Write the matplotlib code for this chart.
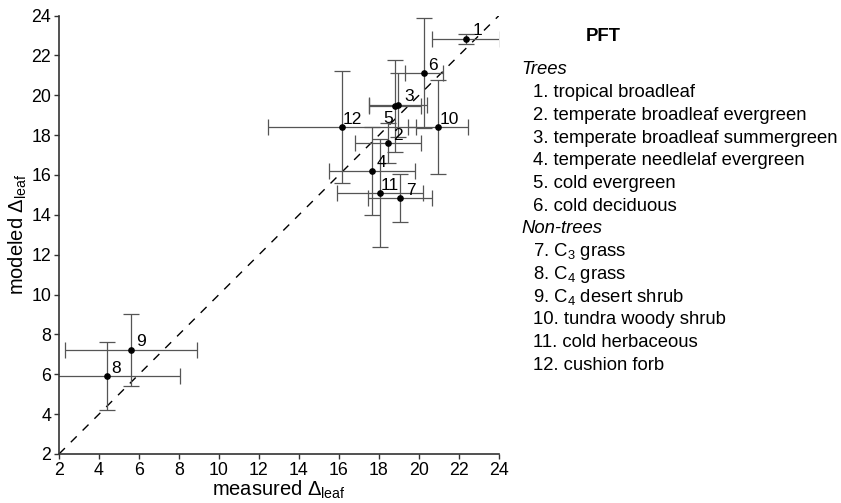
import numpy as np
import matplotlib.pyplot as plt

plt.rcParams['font.family'] = ['Liberation Sans', 'DejaVu Sans']
plt.rcParams['mathtext.fontset'] = 'custom'
plt.rcParams['mathtext.rm'] = 'Liberation Sans'
plt.rcParams['mathtext.it'] = 'Liberation Sans:italic'

# Datos por PFT (1..12)
pft_id = [1, 2, 3, 4, 5, 6, 7, 8, 9, 10, 11, 12]
measured = [22.35, 18.45, 18.95, 17.65, 18.8, 20.25, 19.05, 4.4, 5.6, 20.95, 18.05, 16.15]
modeled = [22.8, 17.6, 19.5, 16.2, 19.45, 21.1, 14.85, 5.9, 7.2, 18.4, 15.1, 18.4]
measured_err = [1.7, 1.65, 1.45, 2.15, 1.3, 0.95, 1.6, 3.65, 3.3, 1.5, 2.15, 3.7]
modeled_err = [0.25, 1.0, 1.6, 2.2, 2.3, 2.75, 1.2, 1.7, 1.8, 2.35, 2.7, 2.8]

trees = ['1. tropical broadleaf', '2. temperate broadleaf evergreen',
         '3. temperate broadleaf summergreen', '4. temperate needlelaf evergreen',
         '5. cold evergreen', '6. cold deciduous']
nontrees = ['7. C$_3$ grass', '8. C$_4$ grass', '9. C$_4$ desert shrub',
            '10. tundra woody shrub', '11. cold herbaceous', '12. cushion forb']

# desplazamiento de las etiquetas (pixeles)
lab_off = {1: (7, 4), 2: (5, 3), 3: (6, 4), 4: (5, 4), 5: (-12, -17), 6: (4, 3),
           7: (6, 3), 8: (4, 3), 9: (5, 4), 10: (2, 3), 11: (1, 3), 12: (1, 3)}

W, H = 841, 503
fig = plt.figure(figsize=(W / 100, H / 100), dpi=100)
ax = fig.add_axes([59 / W, 49 / H, 440 / W, 438.5 / H])

ax.plot([2, 24], [2, 24], color='black', lw=1.0, dashes=(6, 6))
ax.errorbar(measured, modeled, xerr=measured_err, yerr=modeled_err, fmt='none',
            ecolor='#555555', elinewidth=0.9, capsize=6, capthick=0.9, zorder=2)
ax.plot(measured, modeled, 'o', color='black', ms=3.8, zorder=3)

for i, x, y in zip(pft_id, measured, modeled):
    dx, dy = lab_off[i]
    ax.annotate(str(i), (x, y), xytext=(dx, dy), textcoords='offset pixels',
                ha='left', va='baseline', fontsize=12.5)

ax.set_xlim(2, 24)
ax.set_ylim(2, 24)
ax.set_xticks(np.arange(2, 25, 2))
ax.set_yticks(np.arange(2, 25, 2))
for s in ['top', 'right']:
    ax.spines[s].set_visible(False)
for s in ['left', 'bottom']:
    ax.spines[s].set_color('#333333')
    ax.spines[s].set_linewidth(1.2)
ax.tick_params(direction='out', length=3.5, width=1, color='#333333',
               labelsize=12.8, pad=2)
ax.set_xlabel(r'measured $\Delta_{\mathrm{leaf}}$', fontsize=14.5, labelpad=0)
ax.set_ylabel(r'modeled $\Delta_{\mathrm{leaf}}$', fontsize=14.5, labelpad=2)

# leyenda de texto
def fy(py):
    return 1 - py / H

fs = 13.3
fig.text(603 / W, fy(36.5), 'PFT', fontweight='bold', fontsize=fs, ha='center', va='center')
step = 22.7
y0 = 70
fig.text(521.5 / W, fy(y0), 'Trees', style='italic', fontsize=fs, va='center')
for k, t in enumerate(trees):
    fig.text(533 / W, fy(y0 + step * (k + 1)), t, fontsize=fs, va='center')
fig.text(521.5 / W, fy(y0 + step * 7), 'Non-trees', style='italic', fontsize=fs, va='center')
for k, t in enumerate(nontrees):
    fig.text(533 / W, fy(y0 + step * (k + 8)), t, fontsize=fs, va='center')

plt.savefig('out.png', dpi=100)
